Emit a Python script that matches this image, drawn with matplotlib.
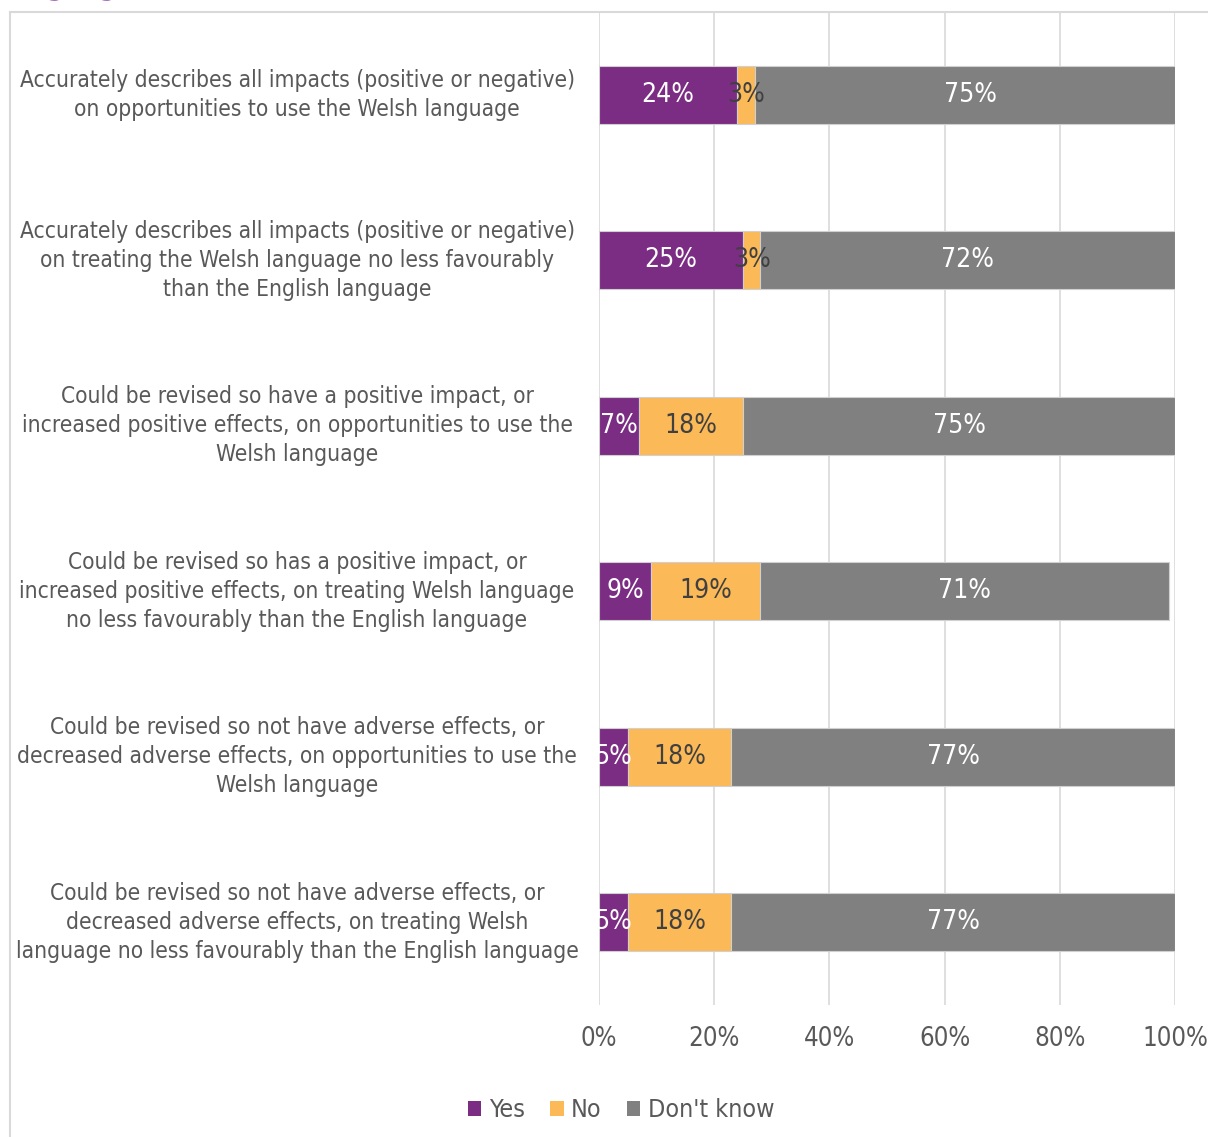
import matplotlib.pyplot as plt
from matplotlib.lines import Line2D
from matplotlib.patches import Patch
from matplotlib.transforms import blended_transform_factory
import numpy as np

# survey statements, top to bottom
statements = [
    "Accurately describes all impacts (positive or negative)\non opportunities to use the Welsh language",
    "Accurately describes all impacts (positive or negative)\non treating the Welsh language no less favourably\nthan the English language",
    "Could be revised so have a positive impact, or\nincreased positive effects, on opportunities to use the\nWelsh language",
    "Could be revised so has a positive impact, or\nincreased positive effects, on treating Welsh language\nno less favourably than the English language",
    "Could be revised so not have adverse effects, or\ndecreased adverse effects, on opportunities to use the\nWelsh language",
    "Could be revised so not have adverse effects, or\ndecreased adverse effects, on treating Welsh\nlanguage no less favourably than the English language",
]
yes = [24, 25, 7, 9, 5, 5]
no = [3, 3, 18, 19, 18, 18]
dont_know = [75, 72, 75, 71, 77, 77]
series_names = ["Yes", "No", "Don't know"]
xticks = [0, 20, 40, 60, 80, 100]

colors = ["#7B2C83", "#FBB957", "#808080"]
label_colors = ["white", "#404040", "white"]
text_grey = "#595959"
FONT = "DejaVu Sans"

W, H = 1208, 1137
fig = plt.figure(figsize=(W / 100, H / 100), dpi=100)
ax = fig.add_axes([599 / W, 1 - 1005 / H, (1175 - 599) / W, (1005 - 12) / H])

ypos = np.arange(len(statements))
left = np.zeros(len(statements))
for vals, col, lc in zip([yes, no, dont_know], colors, label_colors):
    vals = np.array(vals, dtype=float)
    ax.barh(ypos, vals, left=left, height=0.35, color=col,
            edgecolor="#d0d0d0", linewidth=0.8, zorder=3)
    for y, l, v in zip(ypos, left, vals):
        ax.text(l + v / 2, y, f"{int(v)}%", ha="center", va="center", color=lc,
                fontsize=19, family=FONT, fontstretch="condensed", zorder=4,
                clip_on=False)
    left += vals

ax.set_xlim(0, 100)
ax.set_ylim(len(statements) - 0.5, -0.5)
ax.set_xticks(xticks)
ax.set_xticklabels([f"{t}%" for t in xticks], color=text_grey, fontsize=18.5,
                   family=FONT, fontstretch="condensed")
ax.tick_params(axis="x", length=0, pad=15)
ax.set_yticks([])
ax.grid(axis="x", color="#d9d9d9", linewidth=1.2, zorder=0)
for s in ax.spines.values():
    s.set_visible(False)

# statement labels, centred in the left column
label_tf = blended_transform_factory(fig.transFigure, ax.transData)
for y, txt in zip(ypos, statements):
    ax.text(297 / W, y, txt, transform=label_tf,
            ha="center", va="center", multialignment="center", color=text_grey,
            fontsize=16.3, family=FONT, fontstretch="condensed", linespacing=1.33)

handles = [Patch(facecolor=c, edgecolor="none") for c in colors]
fig.legend(handles, series_names, loc="center", ncol=3,
           bbox_to_anchor=(621 / W, 1 - 1110 / H), frameon=False,
           handlelength=0.55, handleheight=0.55, handletextpad=0.3,
           columnspacing=1.0, prop={"family": FONT, "size": 18,
                                     "stretch": "condensed"},
           labelcolor=text_grey)

# outer chart frame
fig.add_artist(Line2D([10 / W, 1], [1 - 12 / H] * 2, transform=fig.transFigure,
                      color="#d9d9d9", linewidth=1.5))
fig.add_artist(Line2D([10 / W] * 2, [0, 1 - 12 / H], transform=fig.transFigure,
                      color="#d9d9d9", linewidth=1.5))

# heading above, mostly outside the frame
fig.text(4 / W, 1 + 5 / H, "language", color="#a66fbf", fontsize=20,
         family=FONT, va="baseline", ha="left")

fig.savefig("out.png", dpi=100)
